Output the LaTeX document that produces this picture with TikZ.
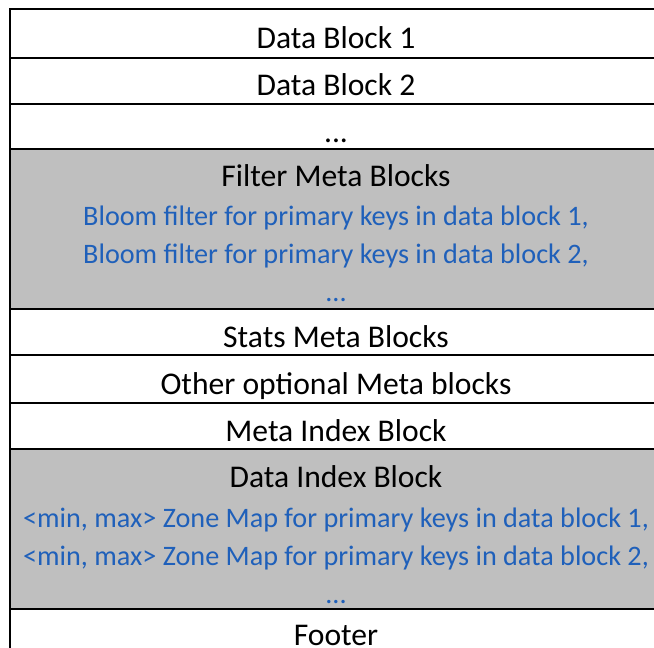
\documentclass[tikz,border=0pt]{standalone}
\usepackage{fontspec}
\setmainfont{Carlito}
\definecolor{metagray}{RGB}{191,191,191}
\definecolor{noteblue}{RGB}{31,96,186}
\tikzset{
  row/.style={draw=black, line width=1.4pt, fill=white},
  metarow/.style={row, fill=metagray},
  title/.style={anchor=base, inner sep=0pt, font=\fontsize{31.6}{36}\selectfont},
  note/.style={anchor=base, inner sep=0pt, text=noteblue, font=\fontsize{28.2}{32}\selectfont}
}
\begin{document}
\begin{tikzpicture}[x=1pt, y=-1pt]
  \useasboundingbox (0,0) rectangle (654,648);
  \clip (0,0) rectangle (654,648);
  % file layout, one band per section
  \draw[row]     (10,9)   rectangle (662,58);
  \draw[row]     (10,58)  rectangle (662,104);
  \draw[row]     (10,104) rectangle (662,149);
  \draw[metarow] (10,149) rectangle (662,309);
  \draw[row]     (10,309) rectangle (662,355);
  \draw[row]     (10,355) rectangle (662,403);
  \draw[row]     (10,403) rectangle (662,449);
  \draw[metarow] (10,449) rectangle (662,609);
  \draw[row]     (10,609) rectangle (662,700);
  % section labels
  \node[title] (db1)    at (336,48)  {Data Block 1};
  \node[title] (db2)    at (336,95)  {Data Block 2};
  \node[title] (dbmore) at (336,142) {...};
  \node[title] (filter) at (336,186) {Filter Meta Blocks};
  \node[note]  (bf1)    at (336,225) {Bloom filter for primary keys in data block 1,};
  \node[note]  (bf2)    at (336,263) {Bloom filter for primary keys in data block 2,};
  \node[note]  (bfmore) at (336,301) {...};
  \node[title] (stats)  at (336,347) {Stats Meta Blocks};
  \node[title] (other)  at (336,394) {Other optional Meta blocks};
  \node[title] (midx)   at (336,441) {Meta Index Block};
  \node[title] (didx)   at (336,487) {Data Index Block};
  \node[note]  (zm1)    at (336,527) {<min, max> Zone Map for primary keys in data block 1,};
  \node[note]  (zm2)    at (336,565) {<min, max> Zone Map for primary keys in data block 2,};
  \node[note]  (zmmore) at (336,603) {...};
  \node[title] (footer) at (336,645) {Footer};
\end{tikzpicture}
\end{document}
